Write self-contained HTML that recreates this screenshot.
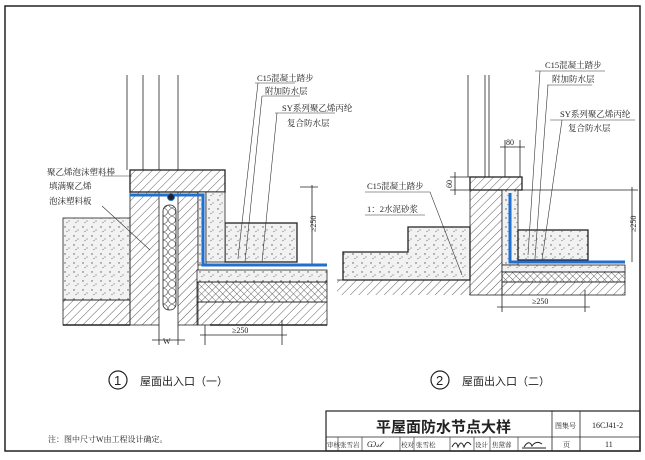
<!DOCTYPE html>
<html><head><meta charset="utf-8"><style>
html,body{margin:0;padding:0;background:#fff;}
svg{display:block;font-family:"Liberation Serif","Noto Serif CJK SC","Noto Sans CJK SC",serif;}
</style></head><body>
<svg width="645" height="460" viewBox="0 0 645 460" xmlns="http://www.w3.org/2000/svg">
<defs>
<pattern id="h" width="6" height="6" patternUnits="userSpaceOnUse" patternTransform="rotate(45)"><line x1="0" y1="0" x2="0" y2="6" stroke="#333" stroke-width="0.8"/></pattern>
<pattern id="d" width="9" height="9" patternUnits="userSpaceOnUse"><rect width="9" height="9" fill="#f2f2f2"/><circle cx="2" cy="2" r="0.7" fill="#555"/><circle cx="6" cy="5" r="0.6" fill="#777"/><path d="M3 7 l2 -1" stroke="#666" stroke-width="0.5"/></pattern>
<pattern id="x" width="5" height="5" patternUnits="userSpaceOnUse" patternTransform="rotate(45)"><path d="M0 0V5M0 0H5" stroke="#333" stroke-width="0.7"/></pattern>
<pattern id="c" width="8" height="8" patternUnits="userSpaceOnUse"><circle cx="4" cy="4" r="3.5" fill="none" stroke="#444" stroke-width="0.6"/></pattern>
</defs>
<rect x="5" y="6" width="635" height="445" fill="none" stroke="#222" stroke-width="1.5"/>

<!-- Diagram 1 -->
<g stroke="#222" stroke-width="0.8">
<line x1="127" y1="75" x2="127" y2="170"/><line x1="143" y1="75" x2="143" y2="170"/><line x1="159" y1="75" x2="159" y2="170"/><line x1="178" y1="75" x2="178" y2="170"/>
<rect x="63" y="218" width="67" height="82" fill="url(#d)"/>
<rect x="63" y="300" width="67" height="25" fill="url(#h)"/>
<rect x="130" y="170" width="95" height="22" fill="url(#h)" stroke-width="1.3"/>
<rect x="130" y="192" width="29" height="133" fill="url(#h)"/>
<rect x="178" y="192" width="20" height="133" fill="url(#h)"/>
<rect x="198" y="192" width="8" height="73" fill="url(#d)"/>
<rect x="163" y="205" width="13" height="105" rx="6" fill="url(#c)"/>
<rect x="225" y="223" width="72" height="39" fill="url(#d)" stroke-width="1.3"/>
<rect x="206" y="192" width="19" height="70" fill="url(#d)"/>
<rect x="197" y="270" width="130" height="12" fill="url(#d)"/>
<rect x="197" y="282" width="130" height="20" fill="url(#x)"/>
<rect x="197" y="302" width="130" height="23" fill="url(#h)"/>
<line x1="63" y1="325" x2="130" y2="325" stroke-width="1.5"/>
<line x1="210" y1="325" x2="327" y2="325" stroke-width="1.5"/>
<line x1="159" y1="325" x2="159" y2="345"/><line x1="178" y1="325" x2="178" y2="345"/>
<line x1="152" y1="340" x2="185" y2="340"/>
<line x1="205" y1="325" x2="205" y2="345"/><line x1="282" y1="320" x2="282" y2="345"/>
<line x1="200" y1="335" x2="287" y2="335"/>
<line x1="312" y1="185" x2="312" y2="265"/><line x1="300" y1="187" x2="318" y2="187"/>
</g>
<path d="M130 195 H203 V265 H327" fill="none" stroke="#1e6fd0" stroke-width="3"/>
<circle cx="171" cy="197" r="3.5" fill="#222" stroke="#1e6fd0"/>
<g font-size="8" fill="#222">
<text x="163" y="344">W</text><text x="232" y="333">≥250</text>
<text x="316" y="232" transform="rotate(-90 316 232)">≥250</text>
</g>
<g stroke="#333" stroke-width="0.6" fill="none">
<path d="M255 83H295M258 83L238 258"/><path d="M262 96H300M262 96L245 262"/>
<path d="M275 113H335M277 113L262 262"/><path d="M102 176H132"/><path d="M102 206L150 250"/>
</g>
<g font-size="8.5" fill="#222">
<text x="257" y="81">C15混凝土踏步</text><text x="265" y="94">附加防水层</text>
<text x="282" y="111">SY系列聚乙烯丙纶</text><text x="287" y="126">复合防水层</text>
<text x="47" y="175">聚乙烯泡沫塑料棒</text><text x="49" y="189">填满聚乙烯</text><text x="49" y="204">泡沫塑料板</text>
</g>

<!-- Diagram 2 -->
<g stroke="#222" stroke-width="0.8">
<line x1="468" y1="75" x2="468" y2="177"/><line x1="485" y1="75" x2="485" y2="177"/><line x1="489" y1="75" x2="489" y2="177"/>
<path d="M343 280 V252 H408 V227 H470 V280 Z" fill="url(#d)" stroke-width="1.3"/>
<rect x="337" y="280" width="133" height="15" fill="url(#h)" stroke="none"/>
<line x1="337" y1="280" x2="470" y2="280"/>
<rect x="470" y="177" width="52" height="13" fill="url(#h)" stroke-width="1.3"/>
<rect x="470" y="190" width="32" height="105" fill="url(#h)"/>
<rect x="502" y="190" width="16" height="75" fill="url(#d)"/>
<rect x="518" y="230" width="70" height="30" fill="url(#d)" stroke-width="1.3"/>
<rect x="502" y="265" width="123" height="7" fill="url(#d)"/>
<rect x="502" y="272" width="123" height="10" fill="url(#x)"/>
<rect x="502" y="282" width="123" height="13" fill="url(#h)"/>
<line x1="505" y1="140" x2="505" y2="177"/><line x1="520" y1="140" x2="520" y2="177"/><line x1="500" y1="147" x2="525" y2="147"/>
<line x1="450" y1="177" x2="470" y2="177"/><line x1="450" y1="190" x2="470" y2="190"/><line x1="455" y1="172" x2="455" y2="195"/>
<line x1="632" y1="187" x2="632" y2="262"/><line x1="520" y1="190" x2="638" y2="190"/>
<line x1="502" y1="295" x2="502" y2="312"/><line x1="585" y1="290" x2="585" y2="312"/><line x1="497" y1="307" x2="590" y2="307"/>
</g>
<path d="M510 193 V262 H625" fill="none" stroke="#1e6fd0" stroke-width="3"/>
<g font-size="8" fill="#222">
<text x="506" y="145">80</text>
<text x="452" y="188" transform="rotate(-90 452 188)">60</text>
<text x="636" y="232" transform="rotate(-90 636 232)">≥250</text>
<text x="532" y="304">≥250</text>
</g>
<g stroke="#333" stroke-width="0.6" fill="none">
<path d="M535 71H605M540 71L528 255"/><path d="M547 85H592M548 85L535 258"/>
<path d="M550 120H635M562 120L542 260"/>
<path d="M365 192H430L462 275"/><path d="M365 215H425"/>
</g>
<g font-size="8.5" fill="#222">
<text x="545" y="68">C15混凝土踏步</text><text x="552" y="82">附加防水层</text>
<text x="560" y="117">SY系列聚乙烯丙纶</text><text x="568" y="131">复合防水层</text>
<text x="367" y="189">C15混凝土踏步</text><text x="367" y="212">1：2水泥砂浆</text>
</g>

<!-- captions -->
<g font-family="Liberation Sans,Noto Sans CJK SC,sans-serif" fill="#222">
<circle cx="118" cy="380" r="9" fill="none" stroke="#222" stroke-width="1.2"/>
<text x="114" y="385" font-size="13">1</text>
<text x="140" y="385" font-size="11">屋面出入口（一）</text>
<circle cx="440" cy="380" r="9" fill="none" stroke="#222" stroke-width="1.2"/>
<text x="436" y="385" font-size="13">2</text>
<text x="462" y="385" font-size="11">屋面出入口（二）</text>
</g>
<text x="48" y="442" font-size="8" fill="#222">注：图中尺寸W由工程设计确定。</text>

<!-- title block -->
<g stroke="#222" fill="none">
<rect x="326" y="411" width="314" height="40" stroke-width="1.2"/>
<line x1="326" y1="437" x2="640" y2="437" stroke-width="0.8"/>
<line x1="552" y1="411" x2="552" y2="451" stroke-width="0.8"/>
<line x1="580" y1="411" x2="580" y2="451" stroke-width="0.8"/>
<g stroke-width="0.6"><line x1="338" y1="437" x2="338" y2="451"/><line x1="362" y1="437" x2="362" y2="451"/><line x1="400" y1="437" x2="400" y2="451"/><line x1="414" y1="437" x2="414" y2="451"/><line x1="450" y1="437" x2="450" y2="451"/><line x1="474" y1="437" x2="474" y2="451"/><line x1="490" y1="437" x2="490" y2="451"/><line x1="518" y1="437" x2="518" y2="451"/></g>
</g>
<g fill="#222">
<text x="376" y="432" font-size="15" font-family="Liberation Sans,Noto Sans CJK SC,sans-serif" font-weight="bold">平屋面防水节点大样</text>
<text x="555" y="428" font-size="7">图集号</text>
<text x="592" y="428" font-size="8">16CJ41-2</text>
<text x="327" y="447" font-size="6.5">审核</text><text x="340" y="447" font-size="6.5">张雪岩</text>
<text x="367" y="447" font-size="8" font-style="italic">Ѡ𝓈𝓁</text>
<text x="401" y="447" font-size="6.5">校对</text><text x="416" y="447" font-size="6.5">张雪松</text>
<path d="M452 447 q4 -8 6 0 q3 -8 6 0 q3 -8 7 -2" fill="none" stroke="#222"/>
<text x="475" y="447" font-size="6.5">设计</text><text x="492" y="447" font-size="6.5">焦黛蓉</text>
<path d="M524 447 q5 -8 8 -1 q4 -6 10 -2 M522 448 H546" fill="none" stroke="#222"/>
<text x="563" y="447" font-size="7">页</text>
<text x="605" y="447" font-size="8">11</text>
</g>
</svg>
</body></html>
